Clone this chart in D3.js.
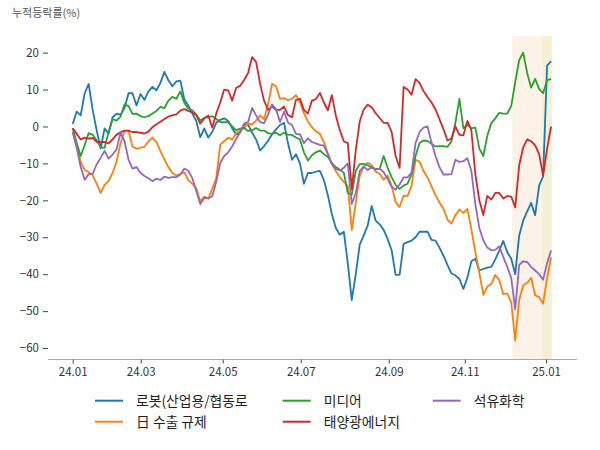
<!DOCTYPE html>
<html><head><meta charset="utf-8">
<script src="https://cdn.jsdelivr.net/npm/d3@7"></script>
<style>body{margin:0;background:#fff}svg{display:block}</style>
</head><body>
<svg id="c" width="600" height="450"></svg>
<script>
const seriesNames = ["로봇(산업용/협동로", "日 수출 규제", "미디어", "태양광에너지", "석유화학"];
const colors = ["#1f77b4", "#ff7f0e", "#2ca02c", "#d62728", "#9467bd"];
const tickLabels = ["24.01", "24.03", "24.05", "24.07", "24.09", "24.11", "25.01"];
const tickIdx = [0, 17.06, 37.63, 57.2, 79.28, 98.35, 118.74];
const yTicks = [20, 10, 0, -10, -20, -30, -40, -50, -60];
const spanA = [110.3, 117.75];
const spanB = [117.75, 120.2];

const robot = [0.7,4,3,9,11.5,4.5,-1,-6,-0.5,-2,2.5,3.5,3.2,5,9,9,5.7,8.8,7.2,9.5,10.7,9.8,11.8,14.8,12.5,10.9,12.2,12.4,7.3,5.7,3.5,1.5,-2.9,-0.5,-3,-1.5,1,1.8,2.2,1.5,-0.5,-2.2,-1.6,0.5,0.5,-1.7,-3.5,-6.5,-5.3,-3.9,-2.1,-0.8,0.4,1,-4.5,-9,-7.5,-10,-15.5,-12.6,-12.6,-12.2,-12,-14.5,-18.6,-23.7,-27.5,-29.3,-28.5,-37,-47,-40,-32,-29.5,-26.8,-21.5,-25.5,-26.5,-28,-30.5,-33.5,-40.2,-40.2,-31.8,-31.3,-30.9,-30,-28.5,-28.5,-28.5,-30.7,-30.9,-32.8,-35,-37.5,-39.8,-40.3,-41.3,-44,-41,-36.5,-35.8,-39,-38.6,-38.2,-38,-36,-33.6,-31,-34,-35.8,-40,-29.5,-25.5,-23,-20.7,-24,-16,-13.5,16.5,17.7];
const japan = [-1.5,-5.5,-9.5,-11.8,-12.4,-13.2,-15.5,-18,-15.8,-14.7,-12.6,-9.5,-4.5,-1.2,-1.2,-5.5,-6,-5.7,-5.5,-4,-3,-4.2,-6.7,-8.9,-11,-12.6,-13.3,-12.8,-12.4,-14.6,-15.5,-16.7,-20.3,-19,-19.5,-16.9,-14,-4.9,-4,-3,-3.6,-1.8,-1.2,-0.4,0.8,0.6,1.6,3,2,6,11.5,10.9,7.5,7.7,7.1,7.5,8.5,6.6,3.6,1.3,-0.2,-1.3,-2,-4.2,-7.3,-10.2,-12.1,-13.7,-15,-16,-28,-20.7,-13.4,-10.9,-9.8,-10.5,-12.2,-12.8,-14.4,-13.3,-16,-20.5,-21.8,-18.7,-18.8,-16.1,-9,-9.5,-12,-13.8,-16.2,-18.6,-20.6,-22.3,-25.2,-26.3,-24,-22.5,-23.4,-22.3,-27.8,-34,-39.6,-45.6,-43.4,-42.6,-40.2,-41.6,-45.4,-45.2,-47.6,-58,-47,-43,-42.4,-41,-45.7,-46.2,-48,-41,-35.4];
const media = [-0.5,-4.5,-8,-5,-1.8,-2.2,-3.8,-5.6,-5.8,-1.5,2,1.6,2.7,6,5.5,3.4,3.5,2.8,2.5,2.8,3.5,4.2,5.3,5,7,8,7.5,9.5,6.4,4.8,4.4,3.2,1.6,2.3,2.5,2.8,2,1.2,1.2,1.2,0,-1,-0.6,-0.4,-1.2,-1,-0.4,-1.1,-1.1,-1.8,-2,-1.7,-2.4,-1.7,-2.2,-2.3,-3,-3.5,-7,-9.2,-7.8,-7,-6.5,-7.5,-8.2,-9.9,-11,-11.7,-12.5,-18,-18.5,-12,-10.2,-10.1,-10.5,-11.2,-11.5,-11.5,-8,-11.2,-13.7,-15.8,-16.9,-16,-15.5,-13,-8,-4.5,-3.8,-3.9,-4.7,-5.4,-5.3,-5.3,-5.5,-4,1,7.5,-0.5,0.5,-0.5,-0.3,-6,-8,-2.5,0.9,2.2,3.7,3.5,3.5,5.5,12,18,20,14.5,10.5,12.9,10.2,9,12.5,12.9];
const solar = [-0.5,-2,-3.5,-3,-3.3,-3.1,-4.2,-4.2,-4.2,-4.6,-3.5,-2.2,-1.6,-1.1,-1.1,-1.5,-1.5,-1.7,-1.9,-1.4,-0.2,0.6,1.3,2,2.7,3,3.3,4.3,4.7,4.2,3.8,3.1,0.8,2.2,3,-0.3,3.5,6.5,10,9.8,7,10.5,11,12.6,14.5,18.8,17.5,11.6,7,4.5,5.4,4.5,4.5,5.4,3.1,2.5,7.2,7.5,4.5,3.5,7,7.4,9.1,6.5,4.4,8.5,3,-1,-4,-4.5,-17,-6.5,1.4,4.6,5.9,5.2,3.6,2.3,1,1,-1.5,-8,-11.2,10.7,10,8.6,12.8,11.8,9.6,8,6.5,4.6,2,-0.7,-3.8,-3.3,0,-2.3,-2.4,1.5,-1,-13,-20,-24,-18.8,-19.8,-18,-18,-19.5,-18.8,-19,-21.9,-10.5,-5.7,-3.5,-4,-5.1,-7.5,-13.3,-6,0];
const petro = [-1.5,-5.8,-11,-14.4,-12.9,-12.8,-10.3,-8.5,-6.6,-8.7,-7.6,-6.2,-1.7,-4,-9,-11.4,-11,-12.6,-13.4,-14,-14.8,-14.1,-14.5,-13.6,-13.9,-13.7,-13.7,-13,-11.4,-12,-14,-17.5,-21,-19.3,-19.5,-18.9,-15,-9.9,-8,-7,-5.4,-3.4,-1.6,0.8,1.2,5,3,1.2,0.9,3.2,6,4.7,1.2,4,1.1,0.4,-2,-2.1,-4.5,-3.2,-4.2,-4.6,-5,-5.2,-7.5,-10.1,-11.5,-11.9,-11.2,-10,-21,-18,-12,-10.9,-11.8,-11,-11.7,-11.4,-12.4,-14.2,-16.4,-17.1,-15.7,-13.8,-13.8,-12.5,-4.5,-1.5,-0.3,0,-4.3,-8,-11,-13,-13,-12.9,-9,-9.6,-9.4,-8.6,-12,-21,-27.5,-30.8,-32.8,-33.5,-33.4,-32.5,-35.3,-38,-41,-49.5,-37.5,-36.5,-36.7,-38,-39,-40,-41.5,-37,-33.6];

const allSeries = [robot, japan, media, solar, petro];
const FONT = "'Noto Sans CJK KR','Noto Sans',sans-serif";

const svg = d3.select("#c");
const x = d3.scaleLinear().domain([-6.2, 126.5]).range([48, 577]);
const y = d3.scaleLinear().domain([-63.1, 24.5]).range([359.5, 36]);

// shaded spans
svg.append("rect").attr("x", x(spanA[0])).attr("y", y(24.5)).attr("width", x(spanA[1]) - x(spanA[0]))
  .attr("height", y(-63.1) - y(24.5)).attr("fill", "#fcf2e8");
svg.append("rect").attr("x", x(spanB[0])).attr("y", y(24.5)).attr("width", x(spanB[1]) - x(spanB[0]))
  .attr("height", y(-63.1) - y(24.5)).attr("fill", "#f4f0d6");

// y axis
const yAxis = svg.append("g").attr("transform", `translate(${x(-6.2)},0)`)
  .call(d3.axisLeft(y).tickValues(yTicks).tickSize(5).tickPadding(4).tickFormat(d3.format("d")));
yAxis.select(".domain").remove();
yAxis.selectAll("line").attr("stroke", "#444");
yAxis.selectAll("text").attr("font-family", FONT).attr("font-size", 11.5).attr("fill", "#333");

// x axis
const xAxis = svg.append("g").attr("transform", `translate(0,${y(-63.1)})`)
  .call(d3.axisBottom(x).tickValues(tickIdx).tickSize(4).tickPadding(4).tickFormat((d, i) => tickLabels[i]));
xAxis.select(".domain").attr("stroke", "#aaa").attr("d", `M${x(-6.2)},0H${x(126.5)}`);
xAxis.selectAll("line").attr("stroke", "#444");
xAxis.selectAll("text").attr("font-family", FONT).attr("font-size", 11.5).attr("fill", "#333");

// lines
const line = d3.line().x((d, i) => x(i)).y(d => y(d));
allSeries.forEach((s, k) => {
  svg.append("path").datum(s).attr("d", line).attr("fill", "none")
    .attr("stroke", colors[k]).attr("stroke-width", 1.8).attr("stroke-linejoin", "round");
});

// title
svg.append("text").attr("x", 12).attr("y", 17).text("누적등락률(%)")
  .attr("font-family", FONT).attr("font-size", 11).attr("fill", "#555");

// legend
const legPos = [[95, 400.7], [95, 421.7], [282.7, 400.7], [282.7, 421.7], [432.7, 400.7]];
seriesNames.forEach((n, k) => {
  const [lx, ly] = legPos[k];
  svg.append("line").attr("x1", lx).attr("x2", lx + 28).attr("y1", ly).attr("y2", ly)
    .attr("stroke", colors[k]).attr("stroke-width", 2);
  svg.append("text").attr("x", lx + 41).attr("y", ly).attr("dy", "0.35em").text(n)
    .attr("font-family", FONT).attr("font-size", 13.8).attr("fill", "#222");
});
</script>
</body></html>
